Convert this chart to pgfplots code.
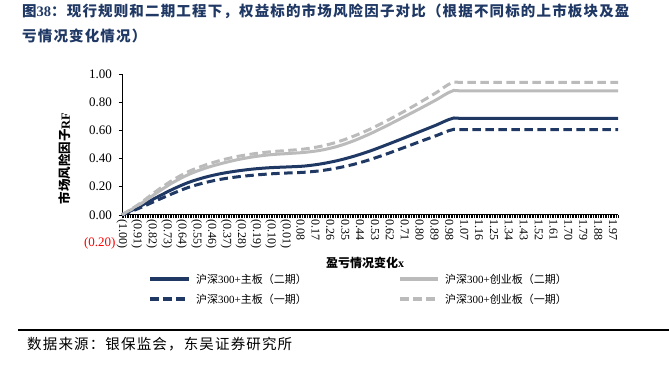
\documentclass[border=0pt]{standalone}
\usepackage{pgfplots}
\pgfplotsset{compat=1.18}
\usepackage{pgfplotstable}
\usepackage{fontspec}
\setmainfont{Liberation Serif}
\newfontfamily\cjk{Noto Sans CJK SC}
\newfontfamily\cjkls[LetterSpace=8]{Noto Sans CJK SC}
\definecolor{navy}{RGB}{31,56,100}
\definecolor{lgray}{RGB}{187,187,187}
\definecolor{titleblue}{RGB}{31,56,100}

\pgfplotstableread{
x    ms    cs    m1    c1
-1.0 0.000 0.000 0.000 0.000
-0.9 0.055 0.068 0.045 0.074
-0.8 0.118 0.148 0.097 0.162
-0.7 0.178 0.224 0.148 0.242
-0.6 0.229 0.285 0.194 0.306
-0.5 0.266 0.330 0.228 0.352
-0.4 0.293 0.364 0.253 0.388
-0.3 0.312 0.392 0.270 0.415
-0.2 0.326 0.413 0.282 0.434
-0.1 0.335 0.427 0.291 0.448
0.0  0.340 0.435 0.297 0.457
0.1  0.346 0.443 0.302 0.467
0.2  0.361 0.458 0.313 0.486
0.3  0.384 0.485 0.332 0.516
0.4  0.415 0.525 0.358 0.558
0.5  0.453 0.575 0.392 0.608
0.6  0.497 0.632 0.432 0.667
0.7  0.543 0.692 0.475 0.730
0.8  0.590 0.753 0.519 0.797
0.9  0.637 0.816 0.562 0.867
1.0  0.685 0.880 0.605 0.940
1.1  0.685 0.880 0.605 0.940
2.0  0.685 0.880 0.605 0.940
}\rf

\begin{document}
\begin{tikzpicture}[x=1pt,y=1pt]
\path[use as bounding box] (0,0) rectangle (669,366);
% title
\node[anchor=west, inner sep=0, text=titleblue, font=\fontsize{14.5}{14.5}\selectfont\bfseries] at (22,355)
  {{\cjkls 图}38{\cjkls ：现行规则和二期工程下，权益标的市场风险因子对比（根据不同标的上市板块及盈}};
\node[anchor=west, inner sep=0, text=titleblue, font=\fontsize{14.5}{14.5}\selectfont\bfseries] at (22,330)
  {{\cjkls 亏情况变化情况）}};

\begin{axis}[
  at={(122pt,123pt)}, anchor=south west, scale only axis,
  width=496pt, height=169pt,
  xmin=-1, xmax=2, ymin=-0.2, ymax=1,
  axis x line=middle, axis y line=left,
  hide obscured x ticks=false,
  x axis line style={-, line width=0.8pt, black},
  y axis line style={draw=none},
  xtick={-1,-0.91,-0.82,-0.73,-0.64,-0.55,-0.46,-0.37,-0.28,-0.19,-0.1,-0.01,0.08,0.17,0.26,0.35,0.44,0.53,0.62,0.71,0.8,0.89,0.98,1.07,1.16,1.25,1.34,1.43,1.52,1.61,1.7,1.79,1.88,1.97},
  xticklabels={(1.00),(0.91),(0.82),(0.73),(0.64),(0.55),(0.46),(0.37),(0.28),(0.19),(0.10),(0.01),0.08,0.17,0.26,0.35,0.44,0.53,0.62,0.71,0.80,0.89,0.98,1.07,1.16,1.25,1.34,1.43,1.52,1.61,1.70,1.79,1.88,1.97},
  minor xtick={-1,-0.99,...,2},
  ytick={0,0.2,0.4,0.6,0.8,1},
  yticklabels={0.00,0.20,0.40,0.60,0.80,1.00},
  extra y ticks={-0.2},
  extra y tick labels={\textcolor{red}{(0.20)}},
  extra y tick style={major tick length=0pt},
  tick align=outside,
  major tick length=3.5pt, minor tick length=3pt,
  x tick style={black, line width=0.4pt},
  y tick style={black, line width=0.6pt},
  xticklabel style={rotate=-90, anchor=west, font=\fontsize{12}{12}\selectfont, inner sep=1pt},
  yticklabel style={font=\fontsize{13}{13}\selectfont, xshift=-3pt},
  xlabel={{\cjk 盈亏情况变化}x},
  xlabel style={at={(axis description cs:0.49,-0.118)}, anchor=center, font=\fontsize{12}{12}\selectfont\bfseries},
  ylabel={{\cjk 市场风险因子}RF},
  ylabel style={at={(axis description cs:-0.115,0.5)}, anchor=center, rotate=0, font=\fontsize{12.5}{12.5}\selectfont\bfseries},
  clip=false,
]
\draw[black, line width=0.6pt] (axis cs:-1,0) -- (axis cs:-1,1);
\addplot[navy, line width=3pt, smooth, tension=0.5] table[x=x, y=ms]{\rf};
\addplot[lgray, line width=3pt, smooth, tension=0.5] table[x=x, y=cs]{\rf};
\addplot[navy, line width=3pt, smooth, tension=0.5, dash pattern=on 8.5pt off 4.5pt] table[x=x, y=m1]{\rf};
\addplot[lgray, line width=3pt, smooth, tension=0.5, dash pattern=on 8.5pt off 4.5pt] table[x=x, y=c1]{\rf};
\end{axis}

% legend
\draw[navy, line width=3.5pt] (150,87) -- (189,87);
\node[anchor=west, inner sep=0, font=\fontsize{11}{11}\selectfont] at (196,87) {{\cjk 沪深}300+{\cjk 主板（二期）}};
\draw[lgray, line width=3.5pt] (400,87) -- (438,87);
\node[anchor=west, inner sep=0, font=\fontsize{11}{11}\selectfont] at (445,87) {{\cjk 沪深}300+{\cjk 创业板（二期）}};
\draw[navy, line width=3.5pt, dash pattern=on 8.5pt off 4.5pt] (150,67) -- (189,67);
\node[anchor=west, inner sep=0, font=\fontsize{11}{11}\selectfont] at (196,67) {{\cjk 沪深}300+{\cjk 主板（一期）}};
\draw[lgray, line width=3.5pt, dash pattern=on 8.5pt off 4.5pt] (400,67) -- (438,67);
\node[anchor=west, inner sep=0, font=\fontsize{11}{11}\selectfont] at (445,67) {{\cjk 沪深}300+{\cjk 创业板（一期）}};

% source
\draw[black, line width=1.2pt] (18,36) -- (669,36);
\node[anchor=west, inner sep=0, font=\fontsize{14.5}{14.5}\selectfont] at (27,22) {{\cjkls 数据来源：银保监会，东吴证券研究所}};
\end{tikzpicture}
\end{document}
